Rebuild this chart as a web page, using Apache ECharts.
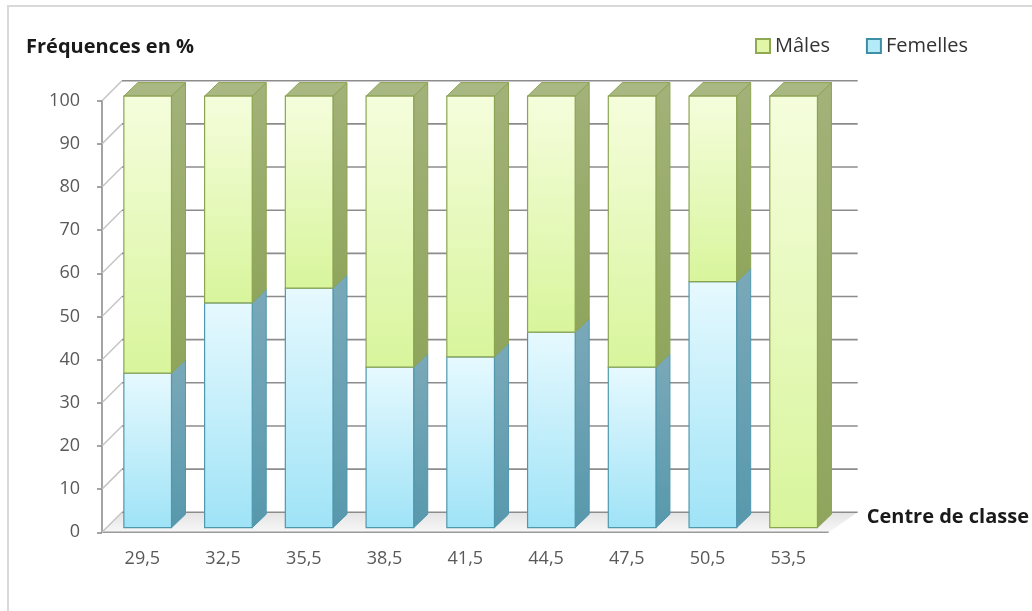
<!DOCTYPE html>
<html><head><meta charset="utf-8">
<script src="https://cdn.jsdelivr.net/npm/echarts@6/dist/echarts.min.js"></script>
<style>html,body{margin:0;padding:0;background:#fff}#c{width:1032px;height:611px}</style>
</head><body><div id="c"></div>
<script>
// ---- data ----
const categories = ['29,5','32,5','35,5','38,5','41,5','44,5','47,5','50,5','53,5'];
const femelles = [35.8, 52.1, 55.5, 37.2, 39.6, 45.3, 37.2, 57.0, 0];
const males    = [64.2, 47.9, 44.5, 62.8, 60.4, 54.7, 62.8, 43.0, 100];
const yTicks = [0, 10, 20, 30, 40, 50, 60, 70, 80, 90, 100];

// ---- 3D look ----
const FRONT_DX = 5.3, FRONT_DY = -4.6;   // bars set back from front floor edge
const DEPTH_DX = 14, DEPTH_DY = -13.5;   // bar depth
const WALL_DX = 20, WALL_DY = -20;       // back wall offset
const BAR_RATIO = 0.59;

const femData = femelles.map((v, i) => [i, 0, v]);
const maleData = males.map((v, i) => [i, femelles[i], femelles[i] + v]);

function grad(c1, c2) {
  return new echarts.graphic.LinearGradient(0, 0, 0, 1, [{offset: 0, color: c1}, {offset: 1, color: c2}]);
}

function barRender(st) {
  return function (params, api) {
    const i = api.value(0), v0 = api.value(1), v1 = api.value(2);
    if (!(v1 - v0 > 0)) return null;
    const w = api.size([1, 0])[0] * BAR_RATIO;
    const pb = api.coord([i, v0]), pt = api.coord([i, v1]);
    const xl = pb[0] - w / 2 + FRONT_DX, xr = xl + w;
    const yb = pb[1] + FRONT_DY, yt = pt[1] + FRONT_DY;
    const ch = [];
    ch.push({type: 'polygon', shape: {points: [[xr, yb], [xr + DEPTH_DX, yb + DEPTH_DY], [xr + DEPTH_DX, yt + DEPTH_DY], [xr, yt]]},
      style: {fill: st.side, stroke: st.stroke, lineWidth: 1}});
    if (st.top) {
      ch.push({type: 'polygon', shape: {points: [[xl, yt], [xr, yt], [xr + DEPTH_DX, yt + DEPTH_DY], [xl + DEPTH_DX, yt + DEPTH_DY]]},
        style: {fill: st.topFill, stroke: st.stroke, lineWidth: 1}});
    }
    ch.push({type: 'rect', shape: {x: xl, y: yt, width: w, height: yb - yt},
      style: {fill: st.front, stroke: st.stroke, lineWidth: 1.2}});
    return {type: 'group', children: ch};
  };
}

function decorRender(params, api) {
  const cs = params.coordSys;
  const v = api.value(1);
  const y = api.coord([0, v])[1];
  const ax = cs.x, right = cs.x + cs.width;
  const ch = [];
  if (v === 0) {
    ch.push({type: 'polygon', shape: {points: [[ax, y], [right, y], [right + WALL_DX + 9, y + WALL_DY], [ax + WALL_DX, y + WALL_DY]]},
      style: {fill: grad('#e4e4e4', '#f7f7f7'), stroke: null}});
    ch.push({type: 'line', shape: {x1: ax, y1: y, x2: right, y2: y}, style: {stroke: '#9a9a9a', lineWidth: 1.5}});
  }
  ch.push({type: 'line', shape: {x1: ax, y1: y, x2: ax + WALL_DX, y2: y + WALL_DY}, style: {stroke: '#c4c4c4', lineWidth: 1.5}});
  ch.push({type: 'line', shape: {x1: ax + WALL_DX, y1: y + WALL_DY, x2: right + WALL_DX + 9, y2: y + WALL_DY}, style: {stroke: '#8c8c8c', lineWidth: 1.6}});
  return {type: 'group', children: ch};
}

const chart = echarts.init(document.getElementById('c'), null, {renderer: 'canvas'});
const FONT = 'Open Sans';
chart.setOption({
  animation: false,
  backgroundColor: '#ffffff',
  graphic: [{type: 'rect', shape: {x: 8, y: 6, width: 1100, height: 700}, style: {fill: 'none', stroke: '#d9d9d9', lineWidth: 2}, z: -10}],
  title: {text: 'Fréquences en %', left: 21, top: 32,
    textStyle: {fontFamily: FONT, fontSize: 20, fontWeight: 'bold', color: '#1a1a1a'}},
  legend: {left: 750, top: 31, itemWidth: 14, itemHeight: 14, itemGap: 36, icon: 'rect',
    textStyle: {fontFamily: FONT, fontSize: 20, color: '#333333'},
    data: [
      {name: 'Mâles', itemStyle: {color: '#e2f6a8', borderColor: '#8fa853', borderWidth: 2}},
      {name: 'Femelles', itemStyle: {color: '#b5ebf8', borderColor: '#3e8ea6', borderWidth: 2}}
    ]},
  grid: {left: 102, width: 729, top: 100.7, bottom: 78.7},
  xAxis: {type: 'category', data: categories,
    axisLine: {show: false}, axisTick: {show: false},
    axisLabel: {fontFamily: FONT, fontSize: 18, color: '#595959', margin: 18},
    name: 'Centre de classe', nameLocation: 'end', nameGap: 38,
    nameTextStyle: {fontFamily: FONT, fontSize: 20, fontWeight: 'bold', color: '#1a1a1a', verticalAlign: 'bottom', padding: [0, 0, 5, 0]}},
  yAxis: {type: 'value', min: 0, max: 100, interval: 10,
    axisLine: {show: true, lineStyle: {color: '#868686', width: 1.5}},
    axisTick: {show: true, length: 5, lineStyle: {color: '#868686', width: 1.5}},
    axisLabel: {fontFamily: FONT, fontSize: 18, color: '#595959', margin: 22},
    splitLine: {show: false}},
  series: [
    {type: 'custom', name: 'decor', data: yTicks.map(v => [0, v]), renderItem: decorRender, z: 1, silent: true, encode: {x: 0, y: 1}},
    {type: 'custom', name: 'Femelles', data: femData, z: 3, encode: {x: 0, y: [1, 2]},
      itemStyle: {color: '#b5ebf8', borderColor: '#3e8ea6'},
      renderItem: barRender({front: grad('#e6f9fe', '#9fe3f7'), side: grad('#7aa9b9', '#5898ac'), stroke: '#4f98ae'})},
    {type: 'custom', name: 'Mâles', data: maleData, z: 3, encode: {x: 0, y: [1, 2]},
      itemStyle: {color: '#e2f6a8', borderColor: '#8fa853'},
      renderItem: barRender({front: grad('#f5fddc', '#d8f59c'), side: grad('#a3b279', '#8fa55c'), top: true, topFill: '#a9b882', stroke: '#8ca452'})}
  ]
});
</script>
</body></html>
